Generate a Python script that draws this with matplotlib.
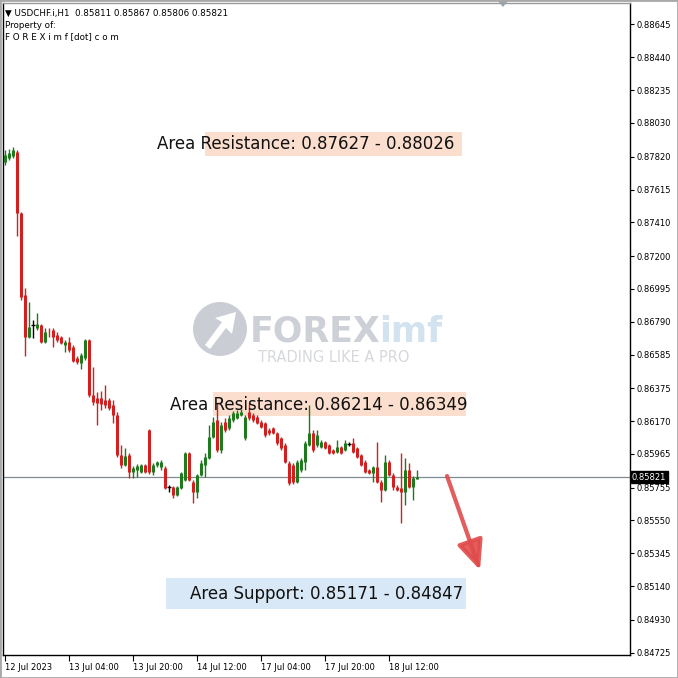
import numpy as np
import matplotlib.pyplot as plt
from matplotlib.patches import Rectangle, Circle, Polygon
import matplotlib.transforms as mtransforms

# hourly USDCHF candles
opens = [0.87787, 0.87812, 0.87824, 0.87849, 0.87468, 0.86957, 0.86695, 0.86770, 0.86751, 0.86770,
         0.86663, 0.86722, 0.86738, 0.86707, 0.86695, 0.86645, 0.86663, 0.86632, 0.86564, 0.86532,
         0.86564, 0.86676, 0.86333, 0.86314, 0.86314, 0.86302, 0.86302, 0.86270, 0.86208, 0.85958,
         0.85896, 0.85958, 0.85852, 0.85865, 0.85852, 0.85896, 0.86114, 0.85852, 0.85896, 0.85883,
         0.85877, 0.85759, 0.85759, 0.85709, 0.85752, 0.85802, 0.85971, 0.85790, 0.85727, 0.85834,
         0.85896, 0.85940, 0.86071, 0.86177, 0.85990, 0.86164, 0.86127, 0.86177, 0.86189, 0.86208,
         0.86064, 0.86227, 0.86208, 0.86195, 0.86164, 0.86158, 0.86114, 0.86127, 0.86096, 0.86064,
         0.86021, 0.85908, 0.85896, 0.85790, 0.85865, 0.85915, 0.86021, 0.86096, 0.86021, 0.86008,
         0.86039, 0.86021, 0.85990, 0.85977, 0.86008, 0.85990, 0.86027, 0.86033, 0.86002, 0.85958,
         0.85915, 0.85865, 0.85846, 0.85883, 0.85790, 0.85740, 0.85915, 0.85834, 0.85759, 0.85752,
         0.85727, 0.85865, 0.85759, 0.85811]
highs = [0.87862, 0.87868, 0.87880, 0.87862, 0.87475, 0.87000, 0.86913, 0.86801, 0.86844, 0.86776,
         0.86751, 0.86751, 0.86751, 0.86726, 0.86701, 0.86676, 0.86695, 0.86645, 0.86576, 0.86595,
         0.86682, 0.86682, 0.86507, 0.86351, 0.86358, 0.86395, 0.86314, 0.86302, 0.86227, 0.86021,
         0.86002, 0.85971, 0.85890, 0.85902, 0.85902, 0.85902, 0.86121, 0.85908, 0.85921, 0.85927,
         0.85890, 0.85771, 0.85765, 0.85765, 0.85852, 0.85977, 0.85977, 0.85802, 0.85840, 0.85927,
         0.85971, 0.86146, 0.86195, 0.86283, 0.86164, 0.86189, 0.86208, 0.86233, 0.86239, 0.86245,
         0.86208, 0.86283, 0.86220, 0.86208, 0.86177, 0.86164, 0.86127, 0.86133, 0.86102, 0.86071,
         0.86033, 0.85921, 0.85908, 0.85927, 0.85940, 0.86046, 0.86270, 0.86114, 0.86114, 0.86052,
         0.86046, 0.86027, 0.85996, 0.86052, 0.86014, 0.86052, 0.86039, 0.86064, 0.86008, 0.85965,
         0.85927, 0.85871, 0.85890, 0.86039, 0.85802, 0.85958, 0.85927, 0.85846, 0.85771, 0.85971,
         0.85940, 0.85908, 0.85827, 0.85867]
lows = [0.87768, 0.87799, 0.87812, 0.87325, 0.86926, 0.86576, 0.86688, 0.86688, 0.86738, 0.86657,
        0.86657, 0.86695, 0.86632, 0.86663, 0.86651, 0.86601, 0.86601, 0.86539, 0.86526, 0.86495,
        0.86551, 0.86320, 0.86270, 0.86146, 0.86239, 0.86252, 0.86239, 0.86158, 0.85946, 0.85877,
        0.85890, 0.85815, 0.85815, 0.85821, 0.85846, 0.85846, 0.85840, 0.85834, 0.85883, 0.85865,
        0.85746, 0.85727, 0.85690, 0.85702, 0.85746, 0.85796, 0.85796, 0.85659, 0.85690, 0.85827,
        0.85821, 0.85933, 0.86064, 0.85977, 0.85971, 0.86102, 0.86114, 0.86164, 0.86183, 0.86202,
        0.86052, 0.86177, 0.86164, 0.86152, 0.86127, 0.86071, 0.86083, 0.86089, 0.86021, 0.85990,
        0.85908, 0.85771, 0.85777, 0.85784, 0.85852, 0.85865, 0.86014, 0.85977, 0.86008, 0.86002,
        0.85996, 0.85965, 0.85965, 0.85971, 0.85965, 0.85983, 0.86014, 0.85971, 0.85940, 0.85890,
        0.85846, 0.85840, 0.85790, 0.85784, 0.85665, 0.85734, 0.85827, 0.85740, 0.85734, 0.85534,
        0.85646, 0.85752, 0.85678, 0.85806]
closes = [0.87830, 0.87843, 0.87862, 0.87468, 0.86944, 0.86695, 0.86757, 0.86770, 0.86776, 0.86663,
          0.86726, 0.86720, 0.86695, 0.86676, 0.86657, 0.86663, 0.86614, 0.86545, 0.86539, 0.86582,
          0.86676, 0.86333, 0.86289, 0.86283, 0.86277, 0.86270, 0.86252, 0.86208, 0.85958, 0.85896,
          0.85952, 0.85852, 0.85877, 0.85890, 0.85896, 0.85852, 0.85852, 0.85896, 0.85915, 0.85915,
          0.85752, 0.85759, 0.85709, 0.85759, 0.85846, 0.85971, 0.85802, 0.85727, 0.85834, 0.85908,
          0.85946, 0.86071, 0.86164, 0.85990, 0.86146, 0.86114, 0.86189, 0.86220, 0.86220, 0.86227,
          0.86195, 0.86189, 0.86177, 0.86158, 0.86133, 0.86083, 0.86096, 0.86096, 0.86033, 0.86002,
          0.85915, 0.85784, 0.85790, 0.85915, 0.85927, 0.86033, 0.86096, 0.85990, 0.86083, 0.86039,
          0.86002, 0.85971, 0.85971, 0.86008, 0.85971, 0.86033, 0.86027, 0.85977, 0.85946, 0.85896,
          0.85852, 0.85846, 0.85883, 0.85790, 0.85740, 0.85915, 0.85834, 0.85759, 0.85740, 0.85727,
          0.85865, 0.85759, 0.85815, 0.85821]

time_labels = ['12 Jul 2023', '13 Jul 04:00', '13 Jul 20:00', '14 Jul 12:00',
               '17 Jul 04:00', '17 Jul 20:00', '18 Jul 12:00']
time_pos = [0, 16, 32, 48, 64, 80, 96]
price_ticks = [0.88645, 0.88440, 0.88235, 0.88030, 0.87820, 0.87615, 0.87410, 0.87200,
               0.86995, 0.86790, 0.86585, 0.86375, 0.86170, 0.85965, 0.85755, 0.85550,
               0.85345, 0.85140, 0.84930, 0.84725]
last_price = 0.85821

zones = ['Area Resistance: 0.87627 - 0.88026',
         'Area Resistance: 0.86214 - 0.86349',
         'Area Support: 0.85171 - 0.84847']

red = '#d21f1f'
green = '#1f7a1f'

fig = plt.figure(figsize=(6.78, 6.78), dpi=100)
ax = fig.add_axes([3/678, 23/678, 627/678, 652/678])
ax.set_xlim(-0.5, 156.25)
ax.set_ylim(0.847103, 0.887788)

o = np.array(opens); h = np.array(highs); l = np.array(lows); c = np.array(closes)
x = np.arange(len(o))
cols = np.where(c > o, green, np.where(c < o, red, 'black'))

ax.vlines(x, l, h, colors=cols, lw=1, zorder=3)
body = c != o
# bodies as 3 px wide strokes
ax.vlines(x[body], np.minimum(o, c)[body], np.maximum(o, c)[body], colors=cols[body],
          lw=2.2, zorder=3, capstyle='butt')
ax.hlines(o[~body], x[~body] - 0.45, x[~body] + 0.45, colors='black', lw=1, zorder=3)

# current price line
ax.axhline(last_price, color='#7f8a93', lw=0.9, zorder=2)
tr = mtransforms.blended_transform_factory(ax.transAxes, ax.transData)
ax.text(1.003, last_price, '%.5f' % last_price, transform=tr, color='white', fontsize=6,
        va='center', ha='left', zorder=6,
        bbox=dict(boxstyle='square,pad=0.15', fc='black', ec='black'))

# axes
ax.yaxis.tick_right()
ax.set_yticks(price_ticks)
ax.set_yticklabels(['%.5f' % p for p in price_ticks])
ax.set_xticks(time_pos)
ax.set_xticklabels(time_labels)
for lab in ax.get_xticklabels():
    lab.set_ha('left')
ax.tick_params(axis='y', direction='out', length=3, width=0.8, pad=2, labelsize=6)
ax.tick_params(axis='x', direction='out', length=4, width=0.8, pad=2, labelsize=6)
for s in ax.spines.values():
    s.set_color('black')
    s.set_linewidth(1)
ax.spines['top'].set_color('#9a9a9a')

# header
ax.text(0.003, 0.984, '\u25bc USDCHF.i,H1  0.85811 0.85867 0.85806 0.85821', transform=ax.transAxes,
        fontsize=6.3, va='center', ha='left')
ax.text(0.003, 0.966, 'Property of:', transform=ax.transAxes, fontsize=6.3, va='center', ha='left')
ax.text(0.003, 0.948, 'F O R E X i m f [dot] c o m', transform=ax.transAxes, fontsize=6.3,
        va='center', ha='left')

# zone labels
def fx(px):
    return (px - 3) / 627.0

def fy(py):
    return (655 - py) / 652.0

boxes = [((205, 462, 132, 156), '#fbdecd', 157, 144),
         ((213, 466, 392, 416), '#fbdecd', 170, 405),
         ((166, 466, 578, 609), '#d9e8f6', 190, 594)]
for (x0, x1, y0, y1), fc, tx, ty in boxes:
    ax.add_patch(Rectangle((fx(x0), fy(y1)), fx(x1) - fx(x0), fy(y0) - fy(y1),
                           transform=ax.transAxes, fc=fc, ec='none', zorder=1))
for (b, txt) in zip(boxes, zones):
    ax.text(fx(b[2]), fy(b[3]), txt, transform=ax.transAxes, fontsize=12, va='center',
            ha='left', color='#111111', zorder=5)

# arrow
ax.annotate('', xy=(fx(480), fy(570)), xytext=(fx(447), fy(476)),
            xycoords='axes fraction', textcoords='axes fraction',
            arrowprops=dict(arrowstyle='-|>,head_length=0.9,head_width=0.4', lw=3,
                            color='#e04b4b', alpha=0.9, mutation_scale=20, shrinkA=0, shrinkB=0),
            zorder=6)

# watermark
fig.patches.append(Circle((220/678, 1 - 329/678), 27/678, transform=fig.transFigure,
                          fc='#cbcdd5', ec='none', zorder=0.5))
fig.patches.append(Polygon([(205/678, 1 - 345/678), (222/678, 1 - 322/678), (215/678, 1 - 318/678),
                            (236/678, 1 - 312/678), (232/678, 1 - 334/678), (226/678, 1 - 328/678),
                            (210/678, 1 - 349/678)],
                           closed=True, transform=fig.transFigure, fc='white', ec='none', zorder=0.6))
ax.text(fx(250), fy(332), 'FOREX', transform=ax.transAxes, fontsize=25, fontweight='bold',
        color='#cdd0d7', va='center', ha='left', zorder=0.5)
ax.text(fx(379), fy(332), 'imf', transform=ax.transAxes, fontsize=25, fontweight='bold',
        color='#d2e3ef', va='center', ha='left', zorder=0.5)
ax.text(fx(258), fy(357), 'TRADING LIKE A PRO', transform=ax.transAxes, fontsize=10.5,
        color='#d6d8dd', va='center', ha='left', zorder=0.5)

# chart shift marker on top
fig.patches.append(Polygon([(497/678, 1.0), (509/678, 1.0), (503/678, 1 - 7/678)], closed=True,
                           transform=fig.transFigure, fc='#9aa3ad', ec='none'))
# window frame
fig.patches.append(Rectangle((0, 0), 1, 1, transform=fig.transFigure, fill=False,
                             ec='#a8a8a8', lw=2))

fig.savefig('out.png', dpi=100)
